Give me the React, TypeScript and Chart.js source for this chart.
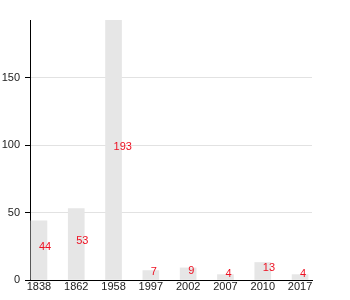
import React, { useEffect, useRef } from "react";
import { Chart, registerables } from "chart.js";

Chart.register(...registerables);

const years = ["1838", "1862", "1958", "1997", "2002", "2007", "2010", "2017"];
const counts = [44, 53, 193, 7, 9, 4, 13, 4];
const yTicks = [0, 50, 100, 150];

const FONT = "'Liberation Sans', Arial, Helvetica, sans-serif";

const valueLabels = {
  id: "valueLabels",
  afterDatasetsDraw(chart: any) {
    const ctx = chart.ctx;
    const meta = chart.getDatasetMeta(0);
    ctx.save();
    ctx.font = `11px ${FONT}`;
    ctx.fillStyle = "#ee1122";
    ctx.textAlign = "left";
    ctx.textBaseline = "middle";
    meta.data.forEach((bar: any, i: number) => {
      const mid = (bar.y + bar.base) / 2;
      ctx.fillText(String(counts[i]), bar.x, mid - 3);
    });
    ctx.restore();
  },
};

export default function App() {
  const ref = useRef<HTMLCanvasElement>(null);
  useEffect(() => {
    if (!ref.current) return;
    const chart = new Chart(ref.current, {
      type: "bar",
      data: {
        datasets: [
          {
            data: counts.map((v, i) => ({ x: i, y: v })),
            backgroundColor: "#e6e6e6",
            borderWidth: 0,
            barThickness: 16,
          },
        ],
      },
      options: {
        responsive: false,
        animation: false,
        layout: { padding: { top: 20, right: 38, left: 0, bottom: 0 } },
        plugins: { legend: { display: false }, tooltip: { enabled: false } },
        scales: {
          x: {
            type: "linear",
            offset: false,
            min: -0.24,
            max: 7.32,
            afterBuildTicks: (scale: any) => {
              scale.ticks = years.map((_, i) => ({ value: i }));
            },
            afterFit: (scale: any) => {
              scale.height = 20;
            },
            grid: { display: false, drawTicks: false, offset: false },
            border: { display: true, color: "#000", width: 1 },
            ticks: {
              padding: 0,
              color: "#222",
              font: { family: FONT, size: 11 },
              autoSkip: false,
              maxRotation: 0,
              callback: (v: any) => years[v] ?? "",
            },
          },
          y: {
            min: 0,
            max: Math.max(...counts),
            afterBuildTicks: (scale: any) => {
              scale.ticks = yTicks.map((v) => ({ value: v }));
            },
            afterFit: (scale: any) => {
              scale.width = 30;
            },
            grid: {
              color: "#e2e2e2",
              tickColor: "#000",
              tickLength: 5,
            },
            border: { display: true, color: "#000", width: 1 },
            ticks: {
              padding: 5,
              color: "#222",
              font: { family: FONT, size: 11 },
            },
          },
        },
      },
      plugins: [valueLabels],
    });
    return () => chart.destroy();
  }, []);
  return (
    <div style={{ position: "absolute", left: 0, top: 0, width: 350, height: 300 }}>
      <canvas ref={ref} width={350} height={300} style={{ width: 350, height: 300 }} />
    </div>
  );
}
